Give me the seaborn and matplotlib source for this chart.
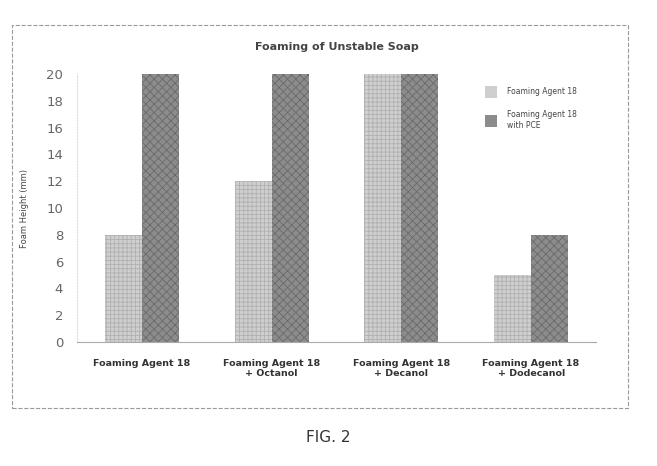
import pandas as pd
import numpy as np
import matplotlib
matplotlib.use("Agg")
import matplotlib.pyplot as plt
import seaborn as sns
from matplotlib.patches import Rectangle

# 데이터
categories = ["Foaming Agent 18", "Foaming Agent 18\n+ Octanol",
              "Foaming Agent 18\n+ Decanol", "Foaming Agent 18\n+ Dodecanol"]
agent_vals = [8, 12, 20, 5]
pce_vals = [20, 20, 20, 8]
series_names = ["Foaming Agent 18", "Foaming Agent 18\nwith PCE"]
y_ticks = [0, 2, 4, 6, 8, 10, 12, 14, 16, 18, 20]

df = pd.DataFrame({
    "cat": categories * 2,
    "val": agent_vals + pce_vals,
    "series": [series_names[0]] * 4 + [series_names[1]] * 4,
})

sns.set_style("white")
plt.rcParams['font.family'] = ['DejaVu Sans']
plt.rcParams['hatch.linewidth'] = 0.6

fig = plt.figure(figsize=(6.57, 4.66), dpi=100)
ax = fig.add_axes([77 / 657, 124 / 466, 519 / 657, 268 / 466])

sns.barplot(data=df, x="cat", y="val", hue="series", ax=ax,
            palette=["#cfcfcf", "#8c8c8c"], width=0.57, gap=0,
            saturation=1, edgecolor="none", legend=True)

# 해치 패턴
hatches = ["++++", "xxxx"]
for cont, h, ec in zip(ax.containers, hatches, ["#b0b0b0", "#6a6a6a"]):
    for bar in cont:
        bar.set_hatch(h)
        bar.set_edgecolor(ec)
        bar.set_linewidth(0)

ax.set_xlim(-0.5, 3.5)
ax.set_ylim(0, 20)
ax.set_yticks(y_ticks)
ax.tick_params(axis="y", labelsize=9.5, colors="#666666", length=0, pad=10)
ax.tick_params(axis="x", labelsize=6.8, colors="#333333", length=0, pad=12)
for t in ax.get_xticklabels():
    t.set_fontweight("bold")
ax.set_xlabel("")
ax.set_ylabel("Foam Height (mm)", fontsize=6, color="#444444", labelpad=12)
ax.set_title("Foaming of Unstable Soap", fontsize=8, fontweight="bold",
             color="#444444", pad=17)

for s in ["top", "right"]:
    ax.spines[s].set_visible(False)
ax.spines["left"].set_color("#dddddd")
ax.spines["left"].set_linestyle(":")
ax.spines["bottom"].set_color("#aaaaaa")
ax.spines["bottom"].set_linewidth(0.8)

leg = ax.legend(loc="upper left", bbox_to_anchor=(0.728, 0.83),
                bbox_transform=fig.transFigure, frameon=False, fontsize=5.5,
                handlelength=1.5, handleheight=2.0, labelspacing=1.6,
                handletextpad=1.4)
for t in leg.get_texts():
    t.set_color("#444444")

# 테두리
fig.patches.append(Rectangle((12 / 657, 1 - 408 / 466), 616 / 657, 383 / 466,
                             transform=fig.transFigure, fill=False,
                             edgecolor="#999999", linestyle="--", linewidth=0.8))

fig.text(328 / 657, 1 - 437 / 466, "FIG. 2", ha="center", va="center",
         fontsize=11, color="#333333")

plt.savefig("out.png", dpi=100)
